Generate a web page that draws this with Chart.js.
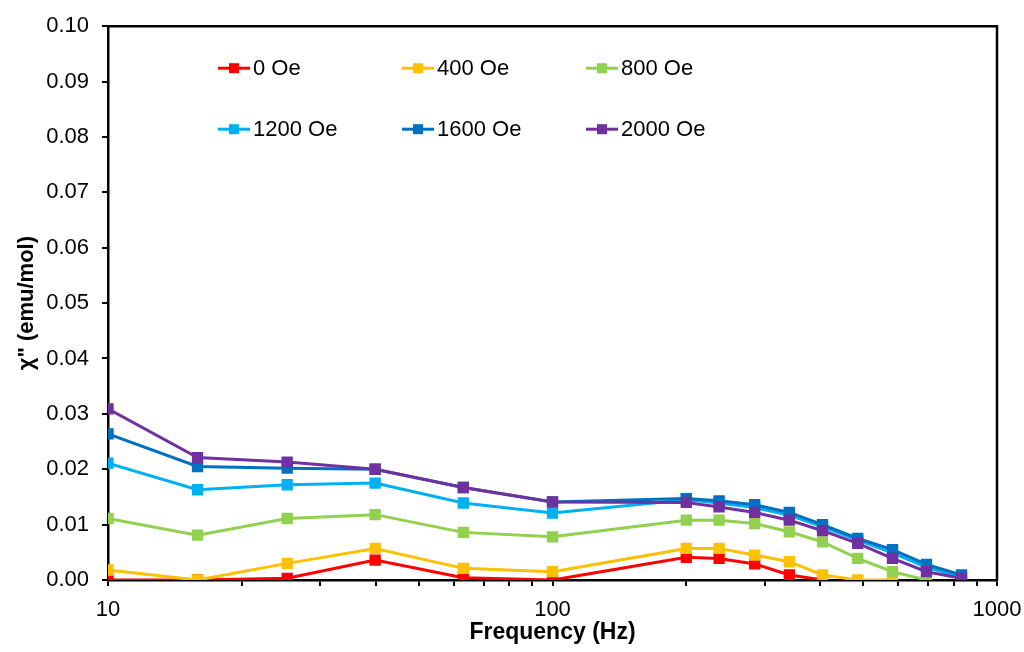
<!DOCTYPE html>
<html>
<head>
<meta charset="utf-8">
<script src="https://cdn.jsdelivr.net/npm/chart.js@4/dist/chart.umd.min.js"></script>
<style>
  html, body { margin: 0; padding: 0; background: #ffffff; }
  #wrap { width: 1024px; height: 652px; }
</style>
</head>
<body>
<div id="wrap"><canvas id="c" width="1024" height="652"></canvas></div>
<script>
// ---- data ----
const frequencies = [10, 15.9, 25.3, 39.9, 63, 100, 200, 237, 285, 341, 405, 486, 582, 694, 832];
const seriesNames = ['0 Oe', '400 Oe', '800 Oe', '1200 Oe', '1600 Oe', '2000 Oe'];
const series0 = [0, 0, 0.0003, 0.0036, 0.0004, 0, 0.0041, 0.0039, 0.0029, 0.0009, 0];
const series400 = [0.0018, 0, 0.0030, 0.0057, 0.0021, 0.0015, 0.0057, 0.0057, 0.0045, 0.0033, 0.0009, 0, 0];
const series800 = [0.0111, 0.0081, 0.0111, 0.0118, 0.0086, 0.0078, 0.0108, 0.0108, 0.0102, 0.0087, 0.0069, 0.0039, 0.0015, 0];
const series1200 = [0.0211, 0.0163, 0.0172, 0.0175, 0.0139, 0.0121, 0.0145, 0.0139, 0.0131, 0.0117, 0.0096, 0.0072, 0.0049, 0.0023, 0.0006];
const series1600 = [0.0264, 0.0205, 0.0202, 0.0200, 0.0167, 0.0141, 0.0147, 0.0143, 0.0136, 0.0122, 0.0100, 0.0075, 0.0055, 0.0028, 0.0009];
const series2000 = [0.0309, 0.0221, 0.0213, 0.0200, 0.0167, 0.0141, 0.0140, 0.0132, 0.0122, 0.0108, 0.0089, 0.0066, 0.0039, 0.0015, 0.0003];
const seriesColors = ['#FF0000', '#FFC000', '#92D050', '#00B0F0', '#0070C0', '#7030A0'];
const xTickValues = [10, 20, 30, 40, 50, 60, 70, 80, 90, 100, 200, 300, 400, 500, 600, 700, 800, 900, 1000];
const xTickLabels = [10, 100, 1000];
const yMin = 0, yMax = 0.10, yStep = 0.01;
const xTitle = 'Frequency (Hz)';
const yTitle = 'χ" (emu/mol)';

const allSeries = [series0, series400, series800, series1200, series1600, series2000];
const FONT = "'Liberation Sans', Arial, sans-serif";

const datasets = allSeries.map((vals, i) => ({
  label: seriesNames[i],
  data: vals.map((v, k) => ({ x: frequencies[k], y: v })),
  borderColor: seriesColors[i],
  backgroundColor: seriesColors[i],
  borderWidth: 3,
  pointStyle: 'rect',
  pointRadius: 8,
  pointBorderWidth: 0,
  pointHoverRadius: 8,
  tension: 0,
  order: allSeries.length - i
}));

const frameAndLegend = {
  id: 'frameAndLegend',
  afterDatasetsDraw(chart) {
    const { ctx, chartArea: a } = chart;
    ctx.save();
    ctx.strokeStyle = '#000';
    ctx.lineWidth = 2.5;
    ctx.beginPath();
    ctx.moveTo(a.left, a.top);
    ctx.lineTo(a.right, a.top);
    ctx.lineTo(a.right, a.bottom);
    ctx.stroke();
    ctx.restore();
  },
  afterDraw(chart) {
    const { ctx, chartArea: a } = chart;
    const colX = [a.left + 110, a.left + 294, a.left + 478];
    const rowY = [a.top + 42, a.top + 103];
    ctx.save();
    ctx.font = '22px ' + FONT;
    ctx.textBaseline = 'middle';
    ctx.fillStyle = '#000';
    chart.data.datasets.forEach((ds, i) => {
      const x = colX[i % 3], y = rowY[Math.floor(i / 3)];
      ctx.strokeStyle = ds.borderColor;
      ctx.lineWidth = 3;
      ctx.beginPath();
      ctx.moveTo(x, y);
      ctx.lineTo(x + 32, y);
      ctx.stroke();
      ctx.fillStyle = ds.backgroundColor;
      ctx.fillRect(x + 16 - 5, y - 5, 10, 10);
      ctx.fillStyle = '#000';
      ctx.textAlign = 'left';
      ctx.fillText(ds.label, x + 35, y + 1);
    });
    ctx.restore();
  }
};

new Chart(document.getElementById('c'), {
  type: 'line',
  data: { datasets },
  plugins: [frameAndLegend],
  options: {
    responsive: false,
    animation: false,
    events: [],
    layout: { padding: { top: 24, right: 27, left: 0, bottom: 0 } },
    plugins: { legend: { display: false }, tooltip: { enabled: false } },
    scales: {
      x: {
        type: 'logarithmic',
        min: 10,
        max: 1000,
        afterFit(scale) { scale.height = 72; scale.paddingRight = 0; },
        afterBuildTicks(scale) { scale.ticks = xTickValues.map(v => ({ value: v })); },
        border: { display: true, color: '#000', width: 2.5 },
        grid: { drawOnChartArea: false, drawTicks: true, tickLength: 6, color: '#000', lineWidth: 2 },
        ticks: {
          autoSkip: false,
          maxRotation: 0,
          color: '#000',
          font: { family: FONT, size: 22 },
          padding: 11,
          callback: (v) => xTickLabels.includes(Number(v)) ? String(v) : ''
        },
        title: {
          display: true,
          text: xTitle,
          color: '#000',
          font: { family: FONT, size: 23, weight: 'bold' },
          padding: { top: 0, bottom: 6 }
        }
      },
      y: {
        type: 'linear',
        min: yMin,
        max: yMax,
        afterFit(scale) { scale.width = 108; },
        border: { display: true, color: '#000', width: 2.5 },
        grid: { drawOnChartArea: false, drawTicks: true, tickLength: 6, color: '#000', lineWidth: 2 },
        ticks: {
          stepSize: yStep,
          color: '#000',
          font: { family: FONT, size: 22 },
          padding: 13,
          callback: (v) => Number(v).toFixed(2)
        },
        title: {
          display: true,
          text: yTitle,
          color: '#000',
          font: { family: FONT, size: 22, weight: 'bold' },
          padding: { top: 14, bottom: 0 }
        }
      }
    }
  }
});
</script>
</body>
</html>
